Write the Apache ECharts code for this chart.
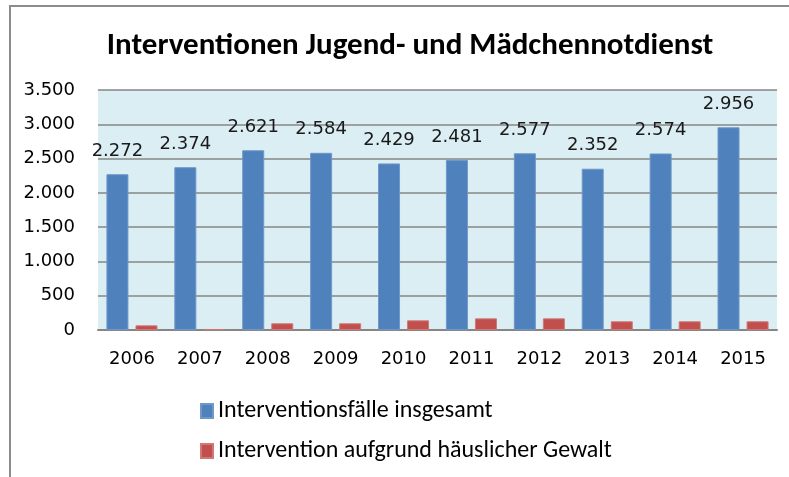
<!DOCTYPE html>
<html>
<head>
<meta charset="utf-8">
<script src="https://cdn.jsdelivr.net/npm/echarts@6/dist/echarts.min.js"></script>
<style>
  html, body { margin: 0; padding: 0; background: #fff; }
  #chart { width: 789px; height: 477px; }
</style>
</head>
<body>
<div id="chart"></div>
<script>
// Daten
var years = ["2006", "2007", "2008", "2009", "2010", "2011", "2012", "2013", "2014", "2015"];
var totalCases = [2272, 2374, 2621, 2584, 2429, 2481, 2577, 2352, 2574, 2956];
var domesticViolence = [68, 15, 98, 98, 141, 170, 170, 127, 127, 127];
var seriesNames = ["Interventionsfälle insgesamt", "Intervention aufgrund häuslicher Gewalt"];

var numFont = "DejaVu Sans";
var textFont = "Carlito, 'Liberation Sans Narrow', 'Open Sans', sans-serif";

function fmt(v) {
    // Tausenderpunkt
    return String(v).replace(/\B(?=(\d{3})+(?!\d))/g, ".");
}

var myChart = echarts.init(document.getElementById("chart"));

var option = {
    backgroundColor: "#ffffff",
    animation: false,
    title: {
        text: "Interventionen Jugend- und Mädchennotdienst",
        left: 405,
        textAlign: "center",
        top: 26,
        textStyle: { fontFamily: textFont, fontSize: 31, fontWeight: "bold", color: "#000" }
    },
    graphic: [{
        type: "polyline",
        shape: { points: [[10, 480], [10, 6], [790, 6]] },
        style: { stroke: "#8c8c8c", lineWidth: 2, fill: null }
    }],
    legend: {
        orient: "vertical",
        left: 195,
        top: 394,
        itemGap: 16,
        itemWidth: 12,
        itemHeight: 14,
        icon: "rect",
        data: seriesNames,
        textStyle: { fontFamily: textFont, fontSize: 24, color: "#000" }
    },
    grid: {
        left: 98,
        right: 12,
        top: 90,
        bottom: 147,
        show: true,
        backgroundColor: "#dbeef4",
        borderWidth: 0
    },
    xAxis: {
        type: "category",
        data: years,
        axisTick: { show: false },
        axisLine: { lineStyle: { color: "#868686", width: 2 } },
        axisLabel: { fontFamily: numFont, fontSize: 18, color: "#000", margin: 20 }
    },
    yAxis: {
        type: "value",
        min: 0,
        max: 3500,
        interval: 500,
        axisLine: { show: false },
        axisTick: { show: false },
        splitLine: { lineStyle: { color: "#868686", width: 1.5 } },
        axisLabel: {
            fontFamily: numFont, fontSize: 18, color: "#000", margin: 23,
            formatter: function (value) { return fmt(value); }
        }
    },
    series: [{
        name: seriesNames[0],
        type: "bar",
        data: totalCases,
        barWidth: 22,
        barGap: "32%",
        itemStyle: { color: "#4f81bd", borderColor: "#6f97c8", borderWidth: 1 },
        label: {
            show: true,
            position: "top",
            distance: 14,
            fontFamily: numFont,
            fontSize: 18,
            color: "#1a1a1a",
            formatter: function (p) { return fmt(p.value); }
        }
    }, {
        name: seriesNames[1],
        type: "bar",
        data: domesticViolence,
        barWidth: 22,
        itemStyle: { color: "#c0504d", borderColor: "#d27774", borderWidth: 1 }
    }]
};

myChart.setOption(option, true);
</script>
</body>
</html>
